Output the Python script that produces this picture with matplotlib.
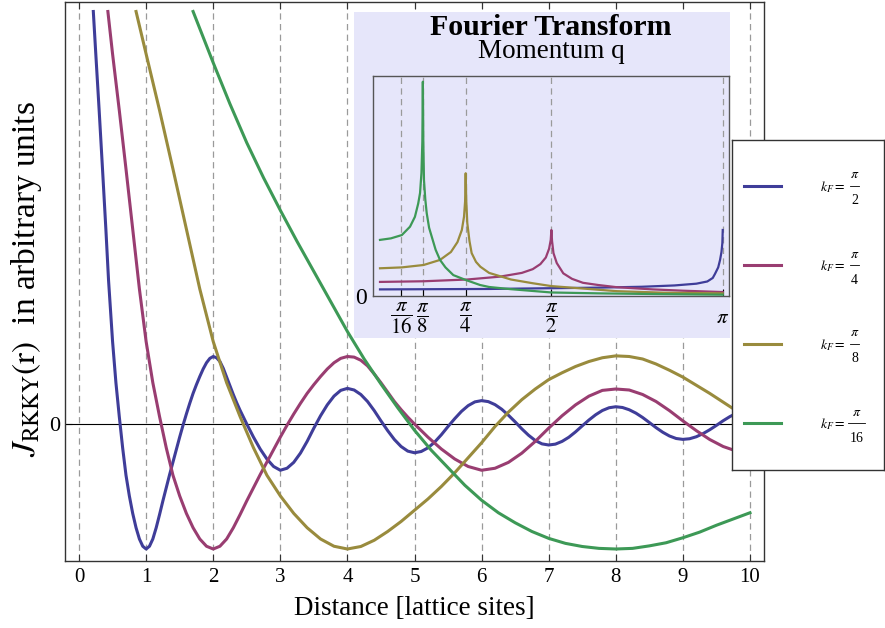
"""
RKKY coupling vs. distance for four Fermi momenta, with an inset showing the
Fourier transform (momentum q) of each curve.
Values were read off the reference picture.
"""
import matplotlib
matplotlib.use("Agg")
import matplotlib.pyplot as plt
from matplotlib.patches import Rectangle

W, H = 885, 628  # output size in pixels (dpi 100)

C_HALF = "#3F3D99"
C_QUARTER = "#993D71"
C_EIGHTH = "#998B3D"
C_SIXTEENTH = "#3D9956"
LAVENDER = "#E6E6FA"

# ── main panel: J_RKKY(r) per k_F ────────────────────────────────────────────
r_half = [0.213, 0.25, 0.3, 0.35, 0.4, 0.44, 0.5, 0.55, 0.6, 0.65, 0.7, 0.75,
          0.8, 0.85, 0.9, 0.95, 1.0, 1.05, 1.1, 1.15, 1.2, 1.25, 1.3, 1.35,
          1.4, 1.45, 1.5, 1.55, 1.6, 1.65, 1.7, 1.75, 1.8, 1.85, 1.9, 1.95,
          2.0, 2.05, 2.1, 2.15, 2.2, 2.25, 2.3, 2.35, 2.4, 2.45, 2.5, 2.6,
          2.7, 2.8, 2.9, 3.0, 3.1, 3.2, 3.3, 3.4, 3.5, 3.6, 3.7, 3.8, 3.9,
          4.0, 4.1, 4.2, 4.3, 4.4, 4.5, 4.6, 4.7, 4.8, 4.9, 5.0, 5.1, 5.2,
          5.3, 5.4, 5.5, 5.6, 5.7, 5.8, 5.9, 6.0, 6.1, 6.2, 6.3, 6.4, 6.5,
          6.6, 6.7, 6.8, 6.9, 7.0, 7.1, 7.2, 7.3, 7.4, 7.5, 7.6, 7.7, 7.8,
          7.9, 8.0, 8.1, 8.2, 8.3, 8.4, 8.5, 8.6, 8.7, 8.8, 8.9, 9.0, 9.1,
          9.2, 9.3, 9.4, 9.5, 9.6, 9.7, 9.8, 9.9, 10.0]
j_half = [3.30, 2.96, 2.51, 2.04, 1.56, 1.15, 0.66, 0.33, 0.06, -0.19, -0.41,
          -0.575, -0.715, -0.83, -0.92, -0.978, -1.0, -0.978, -0.92, -0.83,
          -0.725, -0.615, -0.51, -0.405, -0.305, -0.205, -0.105, -0.01, 0.08,
          0.165, 0.245, 0.315, 0.38, 0.44, 0.49, 0.525, 0.54, 0.53, 0.50,
          0.445, 0.375, 0.305, 0.235, 0.17, 0.11, 0.055, 0.0, -0.105, -0.20,
          -0.28, -0.34, -0.37, -0.354, -0.307, -0.233, -0.139, -0.033, 0.066,
          0.153, 0.223, 0.269, 0.285, 0.272, 0.236, 0.180, 0.107, 0.025,
          -0.053, -0.124, -0.180, -0.217, -0.23, -0.220, -0.191, -0.145,
          -0.086, -0.020, 0.043, 0.101, 0.147, 0.177, 0.187, 0.179, 0.155,
          0.118, 0.070, 0.017, -0.039, -0.090, -0.132, -0.159, -0.168,
          -0.161, -0.139, -0.106, -0.063, -0.015, 0.032, 0.074, 0.108, 0.130,
          0.138, 0.132, 0.114, 0.087, 0.052, 0.012, -0.029, -0.066, -0.096,
          -0.116, -0.123, -0.118, -0.102, -0.077, -0.046, -0.011, 0.026,
          0.059, 0.086, 0.104, 0.11]

r_quarter = [0.43, 0.5, 0.6, 0.7, 0.8, 0.9, 1.0, 1.1, 1.2, 1.3, 1.4, 1.5, 1.6,
             1.7, 1.8, 1.9, 2.0, 2.1, 2.2, 2.3, 2.4, 2.5, 2.6, 2.7, 2.8, 2.9,
             3.0, 3.1, 3.2, 3.3, 3.4, 3.5, 3.6, 3.7, 3.8, 3.9, 4.0, 4.1, 4.2,
             4.3, 4.4, 4.5, 4.6, 4.7, 4.8, 4.9, 5.0, 5.2, 5.4, 5.6, 5.8, 6.0,
             6.2, 6.4, 6.6, 6.8, 7.0, 7.2, 7.4, 7.6, 7.8, 8.0, 8.2, 8.4, 8.6,
             8.8, 9.0, 9.2, 9.4, 9.6, 9.8, 10.0]
j_quarter = [3.30, 2.96, 2.51, 2.04, 1.56, 1.08, 0.66, 0.33, 0.06, -0.19,
             -0.41, -0.575, -0.715, -0.83, -0.92, -0.978, -1.0, -0.978, -0.92,
             -0.83, -0.725, -0.615, -0.51, -0.405, -0.305, -0.205, -0.105,
             -0.01, 0.08, 0.165, 0.245, 0.315, 0.38, 0.44, 0.49, 0.525, 0.54,
             0.535, 0.51, 0.465, 0.40, 0.33, 0.255, 0.18, 0.115, 0.055, 0.0,
             -0.105, -0.20, -0.28, -0.34, -0.37, -0.354, -0.307, -0.233,
             -0.139, -0.033, 0.066, 0.153, 0.223, 0.269, 0.28, 0.272, 0.236,
             0.180, 0.107, 0.025, -0.053, -0.124, -0.180, -0.217, -0.23]

r_eighth = [0.85, 1.0, 1.2, 1.4, 1.6, 1.8, 2.0, 2.2, 2.4, 2.6, 2.8, 3.0, 3.2,
            3.4, 3.6, 3.8, 4.0, 4.2, 4.4, 4.6, 4.8, 5.0, 5.2, 5.4, 5.6, 5.8,
            6.0, 6.2, 6.4, 6.6, 6.8, 7.0, 7.2, 7.4, 7.6, 7.8, 8.0, 8.2, 8.4,
            8.6, 8.8, 9.0, 9.2, 9.4, 9.6, 9.8, 10.0]
j_eighth = [3.30, 2.96, 2.51, 2.04, 1.56, 1.08, 0.66, 0.33, 0.06, -0.19, -0.41,
            -0.575, -0.715, -0.83, -0.92, -0.978, -1.0, -0.98, -0.93, -0.86,
            -0.78, -0.69, -0.60, -0.50, -0.39, -0.27, -0.15, -0.02, 0.095,
            0.195, 0.28, 0.355, 0.41, 0.46, 0.50, 0.53, 0.545, 0.54, 0.52,
            0.48, 0.43, 0.375, 0.31, 0.245, 0.175, 0.105, 0.035]

r_sixteenth = [1.70, 2.0, 2.25, 2.5, 2.75, 3.0, 3.25, 3.5, 3.75, 4.0, 4.25,
               4.5, 4.75, 5.0, 5.25, 5.5, 5.75, 6.0, 6.25, 6.5, 6.75, 7.0,
               7.25, 7.5, 7.75, 8.0, 8.25, 8.5, 8.75, 9.0, 9.25, 9.5, 9.75,
               10.0]
j_sixteenth = [3.30, 2.89, 2.56, 2.25, 1.97, 1.71, 1.46, 1.22, 0.98, 0.74,
               0.52, 0.32, 0.13, -0.05, -0.21, -0.35, -0.49, -0.61, -0.71,
               -0.79, -0.86, -0.915, -0.955, -0.98, -0.995, -1.0, -0.995,
               -0.975, -0.95, -0.91, -0.865, -0.81, -0.76, -0.71]

# ── inset: Fourier transform vs momentum q ───────────────────────────────────
q_half = [0.0, 0.5, 1.0, 1.5, 2.0, 2.4, 2.7, 2.9, 3.0, 3.05, 3.07, 3.1,
          3.117, 3.13, 3.138, 3.1416]
s_half = [0.030, 0.031, 0.032, 0.035, 0.038, 0.042, 0.048, 0.056, 0.066,
          0.082, 0.10, 0.13, 0.164, 0.20, 0.24, 0.30]

q_quarter = [0.0, 0.4, 0.8, 1.1, 1.3, 1.4, 1.47, 1.52, 1.55, 1.565, 1.5708,
             1.577, 1.59, 1.62, 1.68, 1.76, 1.86, 2.0, 2.17, 2.5, 2.78, 3.1416]
s_quarter = [0.064, 0.067, 0.075, 0.088, 0.105, 0.122, 0.145, 0.175, 0.215,
             0.255, 0.30, 0.25, 0.195, 0.15, 0.103, 0.078, 0.06, 0.05, 0.04,
             0.03, 0.024, 0.018]

q_eighth = [0.0, 0.2, 0.4, 0.55, 0.65, 0.71, 0.75, 0.77, 0.78, 0.7854, 0.79,
            0.80, 0.82, 0.84, 0.88, 0.92, 1.0, 1.2, 1.4, 1.5708, 2.17, 2.6,
            3.1416]
s_eighth = [0.126, 0.130, 0.141, 0.164, 0.20, 0.245, 0.30, 0.36, 0.43, 0.558,
            0.44, 0.332, 0.25, 0.195, 0.155, 0.133, 0.105, 0.075, 0.058,
            0.045, 0.022, 0.015, 0.012]

q_sixteenth = [0.0, 0.1, 0.2, 0.275, 0.32, 0.35, 0.367, 0.38, 0.388, 0.3927,
               0.397, 0.403, 0.415, 0.428, 0.45, 0.474, 0.51, 0.55, 0.6,
               0.672, 0.785, 0.917, 1.0, 1.2, 1.5708, 2.0, 2.5, 3.1416]
s_sixteenth = [0.255, 0.262, 0.277, 0.315, 0.36, 0.42, 0.468, 0.56, 0.70,
               0.974, 0.70, 0.527, 0.44, 0.377, 0.31, 0.27, 0.21, 0.164, 0.13,
               0.095, 0.073, 0.05, 0.041, 0.031, 0.016, 0.012, 0.009, 0.006]

q_ticks = [0.19635, 0.3927, 0.7854, 1.5708, 3.1416]
q_tick_labels = [r"$\dfrac{\pi}{16}$", r"$\dfrac{\pi}{8}$", r"$\dfrac{\pi}{4}$",
                 r"$\dfrac{\pi}{2}$", r"$\pi$"]

# legend entries: k_F = pi / denominator
legend_denominators = ["2", "4", "8", "16"]

plt.rcParams.update({
    "font.family": "serif",
    "font.serif": ["Liberation Serif", "DejaVu Serif"],
    "mathtext.fontset": "stix",
})


def fig_box(x0, y0, x1, y1):
    """Pixel box (top-left origin) -> figure fraction [left, bottom, w, h]."""
    return [x0 / W, 1 - y1 / H, (x1 - x0) / W, (y1 - y0) / H]


def main() -> None:
    fig = plt.figure(figsize=(W / 100, H / 100), dpi=100)

    # main axes
    ax = fig.add_axes(fig_box(65, 2, 764, 561))
    series = [(r_half, j_half, C_HALF), (r_quarter, j_quarter, C_QUARTER),
              (r_eighth, j_eighth, C_EIGHTH),
              (r_sixteenth, j_sixteenth, C_SIXTEENTH)]
    for r, j, c in series:
        ax.plot(r, j, color=c, lw=2.2, zorder=3)
    ax.axhline(0, color="black", lw=0.8, zorder=2)
    ax.set_xlim(-0.209, 10.209)
    ax.set_ylim(-1.096, 3.376)
    ax.set_xticks(range(11))
    ax.set_yticks([0])
    ax.grid(axis="x", color="#9a9a9a", linestyle=(0, (5, 3.5)), lw=0.9)
    ax.tick_params(direction="in", top=True, length=5, width=0.8,
                   labelsize=15, pad=5, color="#333333")
    ax.tick_params(axis="y", pad=3.5, labelsize=16)
    for sp in ax.spines.values():
        sp.set_color("#333333")
        sp.set_linewidth(1.0)
    ax.set_xlabel("Distance [lattice sites]", fontsize=19.5, va="top")
    ax.xaxis.set_label_coords(0.5, -0.062)
    ax.set_ylabel(r"$J_{\mathrm{RKKY}}(\mathrm{r})$  in arbitrary units",
                  fontsize=24)
    ax.yaxis.set_label_coords(-0.03, 0.505)

    # inset background + axes
    fig.add_artist(Rectangle((354 / W, 1 - 338 / H), (730 - 354) / W,
                             (338 - 12) / H, transform=fig.transFigure,
                             facecolor=LAVENDER, edgecolor="none", zorder=1))
    ax_in = fig.add_axes(fig_box(372.7, 76, 729, 296))
    ax_in.set_zorder(2)
    ax_in.set_facecolor(LAVENDER)
    inset_series = [(q_half, s_half, C_HALF), (q_quarter, s_quarter, C_QUARTER),
                    (q_eighth, s_eighth, C_EIGHTH),
                    (q_sixteenth, s_sixteenth, C_SIXTEENTH)]
    for q, s, c in inset_series:
        ax_in.plot(q, s, color=c, lw=1.6, zorder=3)
    ax_in.set_xlim(-0.067, 3.199)
    ax_in.set_ylim(0, 1.0)
    ax_in.set_xticks(q_ticks, q_tick_labels)
    ax_in.set_yticks([0])
    ax_in.grid(axis="x", color="#9a9a9a", linestyle=(0, (5, 3.5)), lw=0.9)
    ax_in.tick_params(axis="x", direction="in", length=5, width=0.8,
                      labelsize=15, pad=16)
    ax_in.tick_params(axis="y", direction="in", length=0, labelsize=17, pad=4)
    for lbl in ax_in.get_xticklabels():
        lbl.set_va("center")
    for sp in ax_in.spines.values():
        sp.set_color("#555555")
        sp.set_linewidth(1.0)
    fig.text(551 / W, 1 - 35 / H, "Fourier Transform", ha="center",
             va="baseline", fontsize=21.5, fontweight="bold", zorder=5)
    fig.text(551 / W, 1 - 58 / H, "Momentum q", ha="center", va="baseline",
             fontsize=19.5, zorder=5)

    # legend box
    ax_leg = fig.add_axes(fig_box(732, 140, 884, 470))
    ax_leg.set_zorder(3)
    ax_leg.set_xlim(0, 152)
    ax_leg.set_ylim(330, 0)
    ax_leg.set_xticks([])
    ax_leg.set_yticks([])
    for sp in ax_leg.spines.values():
        sp.set_color("#333333")
        sp.set_linewidth(1.0)
    for k, ((_, _, c), den) in enumerate(zip(series, legend_denominators)):
        y = 46 + 79 * k
        ax_leg.plot([12, 49], [y, y], color=c, lw=2.2)
        ax_leg.text(88, y + 1, r"$k_F=$", ha="left", va="center", fontsize=10)
        xf = 122.5 if len(den) == 1 else 124.5
        half = 4.5 if len(den) == 1 else 8.5
        ax_leg.plot([xf - half, xf + half], [y, y], color="black", lw=0.6)
        ax_leg.text(xf, y - 11, r"$\pi$", ha="center", va="center",
                    fontsize=10)
        ax_leg.text(xf, y + 15, den, ha="center", va="center", fontsize=10)

    fig.savefig("out.png", dpi=100)
    plt.close(fig)


if __name__ == "__main__":
    main()
